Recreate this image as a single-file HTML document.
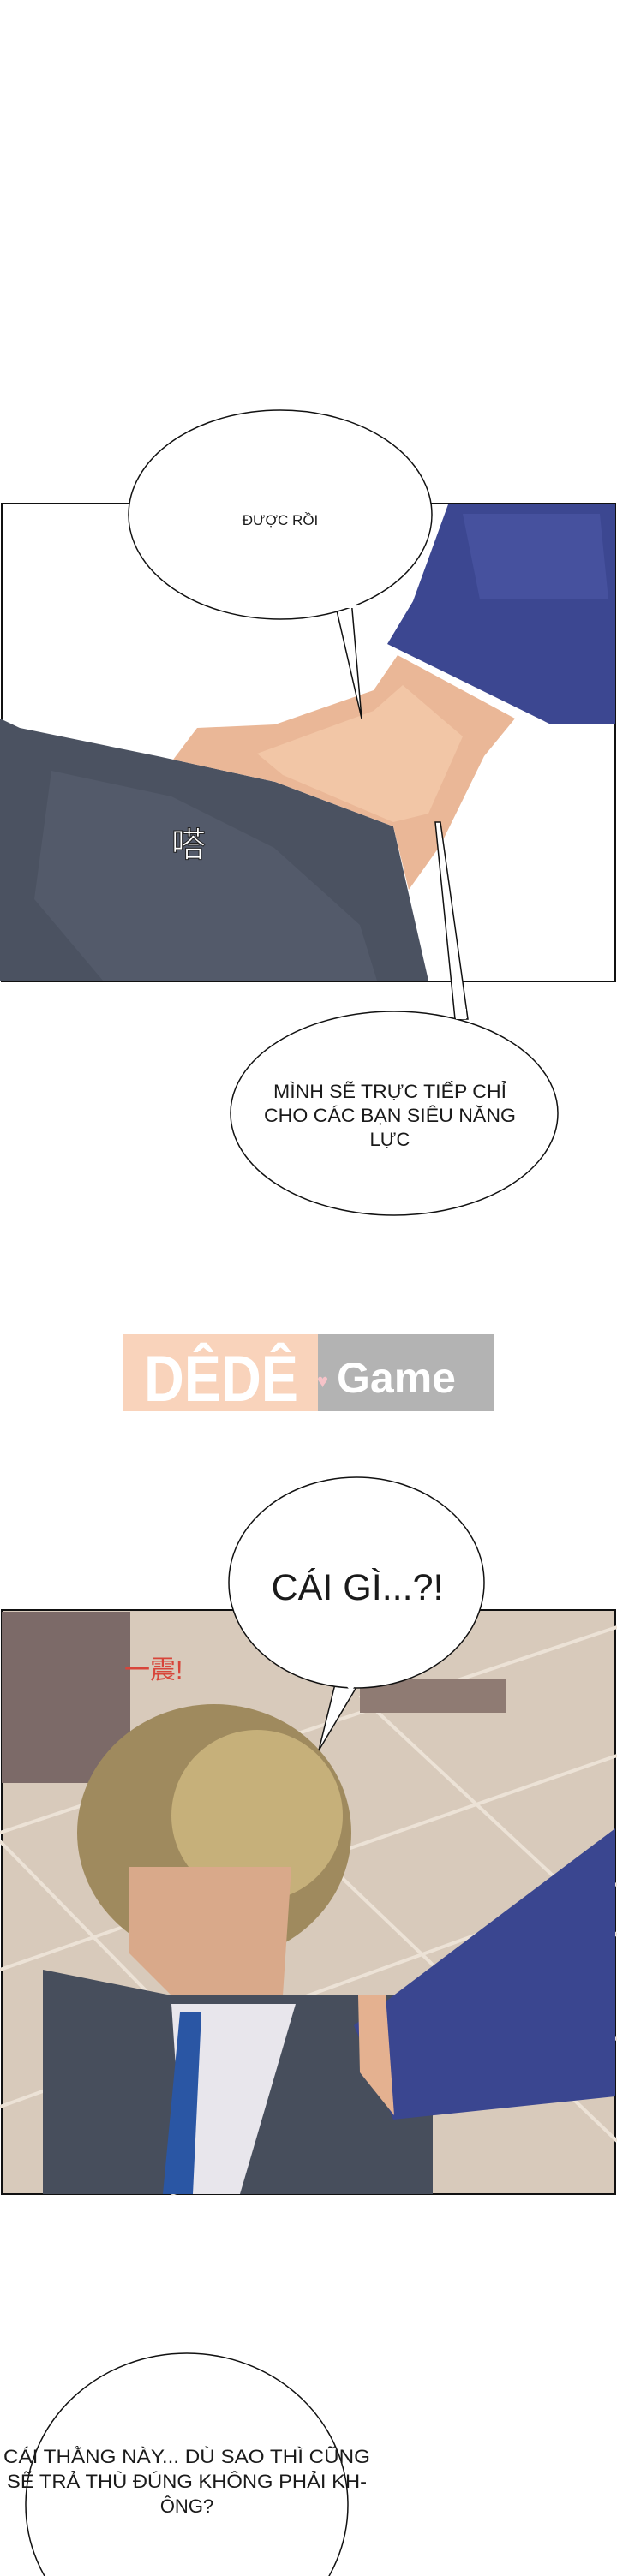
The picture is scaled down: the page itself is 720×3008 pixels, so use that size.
<!DOCTYPE html>
<html><head><meta charset="utf-8"><style>
html,body{margin:0;padding:0;background:#fff;}
svg{display:block;}
text{font-family:"Liberation Sans","Noto Sans CJK SC",sans-serif;fill:#1a1a1a;}
</style></head><body>
<svg width="720" height="3008" viewBox="0 0 720 3008" xmlns="http://www.w3.org/2000/svg">
<rect width="720" height="3008" fill="#fff"/>
<!-- Panel 1 -->
<rect x="2" y="588" width="716" height="558" fill="#fff" stroke="#111" stroke-width="2"/>
<polygon points="0,839 23,850 184,883 321,913 459,965 500,1145 0,1145" fill="#4b5261"/>
<polygon points="60,900 200,930 320,990 420,1080 440,1145 120,1145 40,1050" fill="#535a6a"/>
<polygon points="202,887 230,850 321,846 436,806 464,765 601,839 565,883 514,987 477,1039 459,965 321,913" fill="#eab797"/>
<polygon points="300,880 436,830 470,800 540,860 500,950 459,960 330,905" fill="#f2c6a6"/>
<polygon points="523,589 718,589 718,846 643,846 452,752 482,702" fill="#3c4791"/>
<polygon points="540,600 700,600 710,700 560,700" fill="#46519e"/>
<text x="200" y="1000" font-size="40" fill="#fff" style="fill:#fff" stroke="#222" stroke-width="1">嗒</text>
<!-- Bubble 1 -->
<polygon points="390,700 422,839 410,700" fill="#fff" stroke="#111" stroke-width="1.5"/>
<ellipse cx="327" cy="601" rx="177" ry="122" fill="#fff" stroke="#111" stroke-width="1.5"/>
<rect x="395" y="690" width="20" height="20" fill="#fff"/>
<text x="327" y="613" font-size="17" text-anchor="middle">ĐƯỢC RỒI</text>
<!-- Bubble 2 -->
<polygon points="508,960 531,1190 546,1190 514,960" fill="#fff" stroke="#111" stroke-width="1.5"/>
<ellipse cx="460" cy="1300" rx="191" ry="119" fill="#fff" stroke="#111" stroke-width="1.5"/>
<rect x="532" y="1178" width="12" height="12" fill="#fff"/>
<text x="455" y="1282" font-size="22" text-anchor="middle" textLength="272" lengthAdjust="spacingAndGlyphs">MÌNH SẼ TRỰC TIẾP CHỈ</text>
<text x="455" y="1310" font-size="22" text-anchor="middle" textLength="294" lengthAdjust="spacingAndGlyphs">CHO CÁC BẠN SIÊU NĂNG</text>
<text x="455" y="1338" font-size="22" text-anchor="middle">LỰC</text>
<!-- Logo -->
<rect x="144" y="1558" width="227" height="90" fill="#f9d3bb"/>
<rect x="371" y="1558" width="205" height="90" fill="#b3b3b3"/>
<text x="168" y="1636" font-size="76" font-weight="bold" style="fill:#fff" textLength="180" lengthAdjust="spacingAndGlyphs">DÊDÊ</text>
<text x="370" y="1620" font-size="22" style="fill:#f6c3c8">♥</text>
<text x="393" y="1626" font-size="50" font-weight="bold" style="fill:#fff">Game</text>
<!-- Panel 2 -->
<rect x="2" y="1880" width="716" height="682" fill="#d8cabb" stroke="#111" stroke-width="2"/>
<g stroke="#ece2d6" stroke-width="4">
<line x1="0" y1="2140" x2="720" y2="1900"/><line x1="0" y1="2300" x2="720" y2="2050"/><line x1="0" y1="2460" x2="720" y2="2200"/><line x1="200" y1="2562" x2="720" y2="2380"/>
<line x1="0" y1="2150" x2="400" y2="2560"/><line x1="250" y1="2050" x2="720" y2="2500"/><line x1="420" y1="1980" x2="720" y2="2260"/>
</g>
<rect x="2" y="1882" width="150" height="200" fill="#7c6a68"/>
<rect x="420" y="1960" width="170" height="40" fill="#8f7b73"/>
<ellipse cx="250" cy="2140" rx="160" ry="150" fill="#9f8a5e"/>
<ellipse cx="300" cy="2120" rx="100" ry="100" fill="#c6b07a"/>
<polygon points="150,2180 340,2180 330,2330 210,2340 150,2280" fill="#d9a98a"/>
<polygon points="50,2300 200,2330 360,2330 505,2330 505,2562 50,2562" fill="#474e5c"/>
<polygon points="200,2340 345,2340 280,2562 215,2562" fill="#e8e6ec"/>
<polygon points="210,2350 235,2350 225,2562 190,2562" fill="#2a56a4"/>
<polygon points="413,2365 718,2135 718,2448 459,2475" fill="#3a4690"/>
<polygon points="418,2330 450,2330 460,2470 420,2420" fill="#e4b190"/>
<text x="145" y="1960" font-size="30" style="fill:#d8453a">一震!</text>
<!-- Bubble 3 -->
<polygon points="400,1930 372,2044 425,1955" fill="#fff" stroke="#111" stroke-width="1.5"/>
<ellipse cx="416" cy="1848" rx="149" ry="123" fill="#fff" stroke="#111" stroke-width="1.5"/>
<polygon points="396,1960 402,1950 422,1956 410,1975" fill="#fff"/>
<text x="417" y="1868" font-size="43" text-anchor="middle" textLength="201" lengthAdjust="spacingAndGlyphs">CÁI GÌ...?!</text>
<!-- Bubble 4 -->
<ellipse cx="218" cy="2925" rx="188" ry="177" fill="#fff" stroke="#111" stroke-width="1.5"/>
<text x="218" y="2876" font-size="22" text-anchor="middle" textLength="428" lengthAdjust="spacingAndGlyphs">CÁI THẰNG NÀY... DÙ SAO THÌ CŨNG</text>
<text x="218" y="2905" font-size="22" text-anchor="middle" textLength="420" lengthAdjust="spacingAndGlyphs">SẼ TRẢ THÙ ĐÚNG KHÔNG PHẢI KH-</text>
<text x="218" y="2934" font-size="22" text-anchor="middle">ÔNG?</text>
</svg>
</body></html>
